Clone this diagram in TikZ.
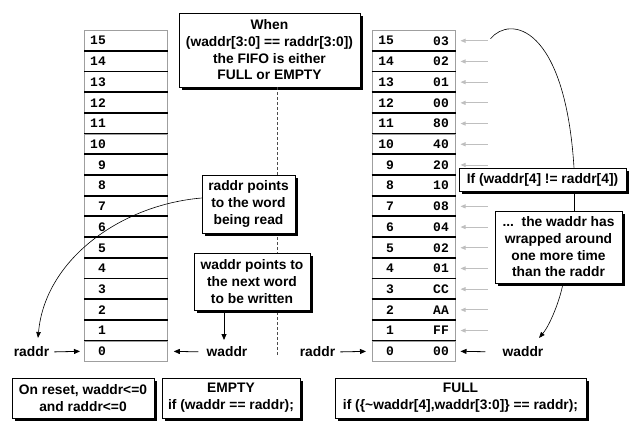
\documentclass[tikz,border=0pt]{standalone}
\usepackage{fontspec}
\setmainfont{Liberation Sans}
\newfontfamily\cellfont{Liberation Mono}
\usetikzlibrary{arrows.meta,shadows,calc}
\begin{document}
\begin{tikzpicture}[x=1pt,y=-1pt,
  lbl/.style={font=\fontsize{13.8}{16.7}\selectfont\bfseries, inner sep=0pt},
  box/.style={draw, fill=white, line width=0.8pt, align=center, inner sep=0pt,
    font=\fontsize{13.8}{16.7}\selectfont\bfseries,
    general shadow={fill=black, shadow xshift=2.5pt, shadow yshift=-2.5pt}},
  cell/.style={draw=gray!75, line width=0.8pt, minimum width=83pt, minimum height=20.7pt, inner sep=0pt, anchor=north west},
  celltxt/.style={font=\cellfont\bfseries\fontsize{13}{14}\selectfont, inner sep=0pt},
  sep/.style={line width=1.8pt},
  barrow/.style={line width=0.8pt, -{Triangle[length=6pt,width=5pt]}},
  garrow/.style={draw=gray!50, line width=0.8pt, -{Triangle[length=5pt,width=4pt,fill=gray!50]}},
  curv/.style={line width=0.6pt, -{Triangle[length=6pt,width=4.5pt]}},
]
\useasboundingbox (0,0) rectangle (633,445);

% memory columns
\foreach \i/\v in {0/00,1/FF,2/AA,3/CC,4/01,5/02,6/04,7/08,8/10,9/20,10/40,11/80,12/00,13/01,14/02,15/03}{
  \node[cell] (L\i) at (84,{30+(15-\i)*20.7}) {};
  \node[cell] (R\i) at (371.7,{30+(15-\i)*20.7}) {};
  \node[celltxt, anchor=west] (LT\i) at ([xshift=6pt]L\i.west) {\ifnum\i<10 \phantom{0}\fi\i};
  \node[celltxt, anchor=west] (RT\i) at ([xshift=6.5pt]R\i.west) {\ifnum\i<10 \phantom{0}\fi\i};
  \node[celltxt, anchor=east] (RV\i) at ([xshift=-6.5pt]R\i.east) {\v};
}
\foreach \i in {0,...,14}{
  \draw[sep] (L\i.north west) -- (L\i.north east);
  \draw[sep] (R\i.north west) -- (R\i.north east);
}

% gray arrows on right column
\foreach \i in {1,...,7,9,10,...,15}{
  \draw[garrow] ([xshift=32pt]R\i.east) -- ([xshift=5pt]R\i.east);
}

% dashed divider
\coordinate (dashend) at (277,357);
\node[box, minimum width=181pt, minimum height=74pt] (top) at (269.5,50)
  {When\\(waddr[3:0] == raddr[3:0])\\the FIFO is either\\FULL or EMPTY};
\draw[dashed, dash pattern=on 3pt off 2pt, line width=0.5pt, gray!60!black] (top.south -| dashend) -- (dashend);

% left callouts
\node[box, minimum width=93pt, minimum height=58pt] (rbox) at (248.5,204)
  {raddr points\\to the word\\being read};
\node[box, minimum width=116pt, minimum height=57pt] (wbox) at (252,281.5)
  {waddr points to\\the next word\\to be written};

% labels
\node[lbl] (raddrL) at (31.5,352) {raddr};
\node[lbl] (waddrL) at (227,352) {waddr};
\node[lbl] (raddrR) at (317.5,352) {raddr};
\node[lbl] (waddrR) at (523,352) {waddr};

\draw[barrow, shorten <=5pt, shorten >=4pt] (raddrL.east) -- (L0.west);
\draw[barrow, shorten <=8pt, shorten >=6pt] (waddrL.west) -- (L0.east);
\draw[barrow, shorten <=5pt, shorten >=5.7pt] (raddrR.east) -- (R0.west);
\draw[barrow, shorten <=17pt, shorten >=5pt] (waddrR.west) -- (R0.east);

\coordinate (wdown) at (224,340);
\draw[barrow] (wbox.south -| wdown) -- (wdown);

\coordinate (rtip) at (38,338);
\draw[curv] ([yshift=6pt]rbox.west) .. controls (120,205) and (45,260) .. (rtip);

% right callouts
\node[box, minimum width=167pt, minimum height=23pt] (ifbox) at (542.5,179.5)
  {If (waddr[4] != raddr[4])};
\node[box, minimum width=127pt, minimum height=72pt] (wrap) at (558.5,247)
  {...\ \ the waddr has\\wrapped around\\one more time\\than the raddr};
\coordinate (vx) at (574,0);
\draw[line width=0.6pt] (ifbox.south -| vx) -- (wrap.north -| vx);
\draw[line width=0.6pt] ([xshift=35pt,yshift=2pt]R15.east) .. controls (510,15) and (565,25) .. (ifbox.north -| vx);
\coordinate (wtip) at (539,338);
\draw[curv] (wrap.south -| 563,0) .. controls (560,300) and (550,325) .. (wtip);

% bottom boxes
\node[box, minimum width=142pt, minimum height=40pt] (reset) at (83,398)
  {On reset, waddr<=0\\and raddr<=0};
\node[box, minimum width=138pt, minimum height=40pt] (empty) at (231,398)
  {EMPTY\\if (waddr == raddr);};
\node[box, minimum width=251pt, minimum height=40pt] (full) at (460.5,398)
  {FULL\\if (\{\textasciitilde waddr[4],waddr[3:0]\} == raddr);};
\end{tikzpicture}
\end{document}
